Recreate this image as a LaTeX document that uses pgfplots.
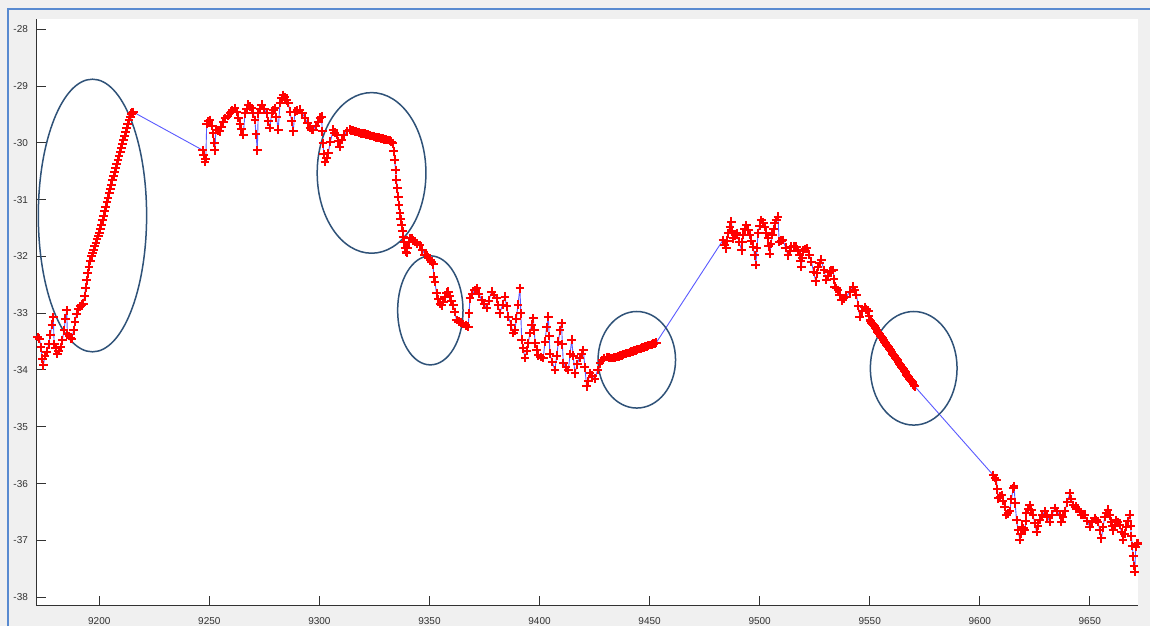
\documentclass[border=0pt]{standalone}
\usepackage{fontspec}
\setmainfont{Liberation Sans}
\usepackage{pgfplots}
\usepackage{pgfplotstable}
\pgfplotsset{compat=1.18}
\definecolor{figgray}{RGB}{240,240,240}
\definecolor{winblue}{RGB}{88,138,208}
\definecolor{axgray}{RGB}{50,50,50}
\definecolor{ellcol}{RGB}{47,82,120}
\definecolor{lineblue}{RGB}{90,90,255}
\pgfplotstableread[row sep=\\]{
x y\\
9171.2 -33.40\\ 9172.0 -33.42\\ 9172.8 -33.45\\ 9173.5 -33.60\\ 9174.1 -33.80\\ 9174.6 -33.92\\ 9175.3 -33.75\\ 9176.1 -33.68\\
9177.0 -33.55\\ 9177.8 -33.38\\ 9178.5 -33.20\\ 9179.1 -33.07\\ 9179.5 -33.55\\ 9180.2 -33.62\\ 9181.0 -33.72\\ 9181.6 -33.66\\
9182.4 -33.60\\ 9183.2 -33.48\\ 9184.0 -33.30\\ 9184.6 -33.10\\ 9185.2 -32.95\\ 9185.5 -33.36\\ 9186.2 -33.40\\ 9187.0 -33.44\\
9187.6 -33.45\\ 9188.3 -33.30\\ 9189.0 -33.15\\ 9189.7 -33.01\\ 9190.5 -32.92\\ 9191.3 -32.88\\ 9192.0 -32.85\\ 9192.7 -32.83\\
9193.3 -32.70\\ 9193.8 -32.55\\ 9194.3 -32.42\\ 9194.8 -32.30\\ 9195.3 -32.18\\ 9195.9 -32.08\\ 9196.5 -32.00\\ 9197.0 -31.94\\
9197.5 -31.88\\ 9198.0 -31.82\\ 9198.5 -31.76\\ 9199.0 -31.70\\ 9199.5 -31.64\\ 9200.0 -31.58\\ 9200.5 -31.51\\ 9201.0 -31.44\\
9201.5 -31.36\\ 9202.0 -31.28\\ 9202.5 -31.20\\ 9203.0 -31.13\\ 9203.5 -31.05\\ 9204.0 -30.97\\ 9204.5 -30.89\\ 9205.0 -30.81\\
9205.5 -30.74\\ 9206.0 -30.66\\ 9206.5 -30.58\\ 9207.0 -30.51\\ 9207.5 -30.44\\ 9208.0 -30.37\\ 9208.5 -30.30\\ 9209.0 -30.24\\
9209.5 -30.17\\ 9210.0 -30.10\\ 9210.5 -30.02\\ 9211.0 -29.95\\ 9211.5 -29.88\\ 9212.0 -29.81\\ 9212.5 -29.74\\ 9213.0 -29.67\\
9213.5 -29.60\\ 9214.0 -29.54\\ 9214.5 -29.49\\ 9215.0 -29.47\\ 9215.5 -29.46\\
9247.0 -30.13\\ 9247.5 -30.22\\ 9248.0 -30.33\\ 9248.4 -30.28\\ 9248.8 -29.66\\ 9249.5 -29.62\\ 9250.3 -29.60\\ 9251.0 -29.70\\
9251.8 -29.83\\ 9252.2 -30.00\\ 9252.5 -30.13\\ 9253.0 -29.77\\ 9253.8 -29.78\\ 9254.8 -29.80\\ 9255.5 -29.72\\ 9256.3 -29.63\\
9257.3 -29.57\\ 9258.3 -29.52\\ 9259.4 -29.48\\ 9260.5 -29.43\\ 9261.6 -29.39\\ 9262.4 -29.45\\ 9263.2 -29.56\\ 9263.9 -29.66\\
9264.6 -29.76\\ 9265.4 -29.86\\ 9266.2 -29.48\\ 9267.0 -29.40\\ 9267.7 -29.33\\ 9268.5 -29.36\\ 9269.2 -29.39\\ 9270.0 -29.48\\
9270.7 -29.60\\ 9271.2 -29.85\\ 9271.8 -30.13\\ 9272.2 -29.48\\ 9273.0 -29.40\\ 9273.8 -29.33\\ 9274.9 -29.40\\ 9276.0 -29.48\\
9276.8 -29.62\\ 9277.5 -29.74\\ 9278.3 -29.48\\ 9279.0 -29.43\\ 9279.8 -29.39\\ 9280.5 -29.55\\ 9281.3 -29.77\\ 9282.1 -29.30\\
9282.8 -29.21\\ 9283.6 -29.16\\ 9284.4 -29.20\\ 9285.2 -29.25\\ 9285.9 -29.30\\ 9286.6 -29.45\\ 9287.4 -29.62\\ 9288.1 -29.80\\
9288.9 -29.45\\ 9290.0 -29.43\\ 9291.2 -29.42\\ 9292.3 -29.48\\ 9293.5 -29.57\\ 9294.6 -29.65\\ 9295.7 -29.74\\ 9296.5 -29.77\\
9297.2 -29.77\\ 9298.3 -29.70\\ 9299.5 -29.63\\ 9300.3 -29.56\\ 9301.0 -29.54\\ 9301.3 -29.80\\ 9301.6 -30.01\\ 9302.0 -30.20\\
9302.5 -30.33\\ 9303.3 -30.27\\ 9304.0 -30.18\\ 9305.0 -29.98\\ 9306.3 -29.77\\ 9307.0 -29.82\\ 9307.8 -29.86\\ 9308.5 -29.97\\
9309.3 -30.07\\ 9310.2 -29.95\\ 9311.2 -29.86\\ 9312.5 -29.80\\ 9313.8 -29.77\\ 9314.5 -29.78\\ 9315.2 -29.79\\ 9316.0 -29.80\\
9316.8 -29.80\\ 9317.5 -29.81\\ 9318.2 -29.82\\ 9319.0 -29.83\\ 9319.8 -29.84\\ 9320.5 -29.84\\ 9321.2 -29.85\\ 9322.0 -29.86\\
9322.8 -29.87\\ 9323.5 -29.88\\ 9324.2 -29.88\\ 9325.0 -29.89\\ 9325.8 -29.90\\ 9326.5 -29.91\\ 9327.2 -29.91\\ 9328.0 -29.92\\
9328.8 -29.93\\ 9329.5 -29.94\\ 9330.2 -29.94\\ 9331.0 -29.95\\ 9331.9 -29.96\\ 9332.6 -29.98\\ 9333.4 -30.01\\ 9333.8 -30.15\\
9334.2 -30.30\\ 9334.6 -30.48\\ 9335.0 -30.65\\ 9335.4 -30.80\\ 9335.8 -30.95\\ 9336.2 -31.10\\ 9336.6 -31.24\\ 9337.0 -31.35\\
9337.4 -31.45\\ 9337.8 -31.56\\ 9338.1 -31.65\\ 9338.5 -31.75\\ 9338.9 -31.85\\ 9339.3 -31.92\\ 9339.6 -31.94\\ 9340.0 -31.85\\
9340.5 -31.75\\ 9341.1 -31.68\\ 9341.9 -31.68\\ 9342.6 -31.72\\ 9343.4 -31.74\\ 9344.5 -31.77\\ 9345.7 -31.80\\ 9346.8 -31.88\\
9347.9 -31.97\\ 9348.7 -31.98\\ 9349.5 -32.02\\ 9350.3 -32.06\\ 9351.0 -32.10\\ 9351.7 -32.14\\ 9351.9 -32.36\\ 9352.5 -32.45\\
9353.2 -32.65\\ 9354.0 -32.75\\ 9354.8 -32.83\\ 9355.5 -32.86\\ 9356.3 -32.80\\ 9357.0 -32.72\\ 9357.8 -32.64\\ 9358.5 -32.62\\
9359.3 -32.70\\ 9360.0 -32.78\\ 9360.8 -32.86\\ 9361.5 -32.98\\ 9362.3 -33.12\\ 9363.3 -33.15\\ 9364.3 -33.17\\ 9365.3 -33.19\\
9366.4 -33.21\\ 9367.6 -33.24\\ 9368.0 -33.00\\ 9368.4 -32.74\\ 9369.5 -32.66\\ 9370.5 -32.60\\ 9371.4 -32.56\\ 9372.5 -32.66\\
9373.7 -32.77\\ 9374.8 -32.84\\ 9376.0 -32.91\\ 9377.0 -32.78\\ 9378.2 -32.62\\ 9379.3 -32.68\\ 9380.5 -32.74\\ 9381.2 -32.86\\
9382.0 -33.00\\ 9383.2 -32.85\\ 9384.3 -32.71\\ 9385.0 -32.88\\ 9385.8 -33.06\\ 9387.0 -33.20\\ 9388.1 -33.35\\ 9388.8 -33.30\\
9389.5 -33.10\\ 9390.2 -32.85\\ 9391.1 -32.56\\ 9391.5 -33.00\\ 9391.9 -33.47\\ 9392.6 -33.62\\ 9393.4 -33.79\\ 9394.2 -33.66\\
9394.9 -33.53\\ 9395.6 -33.35\\ 9396.4 -33.20\\ 9397.2 -33.09\\ 9397.6 -33.30\\ 9398.0 -33.53\\ 9398.8 -33.64\\ 9399.5 -33.74\\
9400.6 -33.77\\ 9401.7 -33.79\\ 9402.5 -33.50\\ 9403.2 -33.25\\ 9404.0 -33.06\\ 9404.4 -33.40\\ 9404.7 -33.71\\ 9405.8 -33.86\\
9407.0 -34.00\\ 9407.8 -33.75\\ 9408.6 -33.50\\ 9409.3 -33.30\\ 9410.0 -33.18\\ 9410.4 -33.55\\ 9410.8 -33.88\\ 9412.0 -33.95\\
9413.1 -34.00\\ 9413.9 -33.72\\ 9414.6 -33.47\\ 9415.3 -33.75\\ 9416.1 -34.06\\ 9417.1 -33.90\\ 9418.2 -33.78\\ 9419.2 -33.71\\
9419.9 -33.65\\ 9420.6 -33.95\\ 9421.4 -34.29\\ 9422.1 -34.20\\ 9422.9 -34.06\\ 9424.0 -34.10\\ 9425.2 -34.15\\ 9426.4 -34.00\\
9427.5 -33.88\\ 9428.5 -33.83\\ 9429.5 -33.79\\ 9430.5 -33.77\\ 9431.5 -33.78\\ 9432.5 -33.79\\ 9433.5 -33.79\\ 9434.0 -33.78\\
9434.5 -33.78\\ 9435.0 -33.77\\ 9435.5 -33.76\\ 9436.0 -33.76\\ 9436.5 -33.75\\ 9437.0 -33.74\\ 9437.5 -33.74\\ 9438.0 -33.73\\
9438.5 -33.72\\ 9439.0 -33.72\\ 9439.5 -33.71\\ 9440.0 -33.70\\ 9440.5 -33.70\\ 9441.0 -33.69\\ 9441.5 -33.68\\ 9442.0 -33.67\\
9442.5 -33.67\\ 9443.0 -33.66\\ 9443.5 -33.65\\ 9444.0 -33.65\\ 9444.5 -33.64\\ 9445.0 -33.63\\ 9445.5 -33.63\\ 9446.0 -33.62\\
9446.5 -33.61\\ 9447.0 -33.61\\ 9447.5 -33.60\\ 9448.0 -33.59\\ 9448.5 -33.59\\ 9449.0 -33.58\\ 9449.5 -33.57\\ 9450.0 -33.56\\
9450.5 -33.56\\ 9451.0 -33.55\\ 9451.5 -33.54\\ 9452.0 -33.54\\ 9452.5 -33.53\\ 9453.0 -33.52\\
9483.4 -31.71\\ 9484.2 -31.80\\ 9484.9 -31.86\\ 9485.3 -31.72\\ 9485.7 -31.59\\ 9486.5 -31.48\\ 9487.2 -31.39\\ 9487.6 -31.55\\
9488.0 -31.68\\ 9488.8 -31.63\\ 9489.5 -31.59\\ 9490.6 -31.74\\ 9491.8 -31.89\\ 9492.2 -31.75\\ 9492.5 -31.62\\ 9493.3 -31.52\\
9494.0 -31.45\\ 9494.8 -31.53\\ 9495.5 -31.62\\ 9496.3 -31.72\\ 9497.0 -31.83\\ 9497.7 -31.98\\ 9498.3 -32.15\\ 9498.8 -31.85\\
9499.3 -31.59\\ 9500.0 -31.46\\ 9500.8 -31.36\\ 9501.6 -31.41\\ 9502.3 -31.48\\ 9503.0 -31.58\\ 9503.8 -31.68\\ 9504.2 -31.82\\
9504.6 -31.95\\ 9505.2 -31.78\\ 9505.8 -31.62\\ 9506.3 -31.52\\ 9506.8 -31.42\\ 9507.5 -31.36\\ 9508.3 -31.30\\ 9508.9 -31.74\\
9509.8 -31.72\\ 9510.6 -31.71\\ 9511.8 -31.85\\ 9512.9 -31.98\\ 9513.6 -31.90\\ 9514.4 -31.83\\ 9515.5 -31.82\\ 9516.7 -31.83\\
9517.5 -31.90\\ 9518.2 -31.98\\ 9518.6 -32.08\\ 9519.0 -32.18\\ 9519.4 -32.02\\ 9519.7 -31.89\\ 9520.6 -31.87\\ 9521.5 -31.86\\
9522.5 -31.97\\ 9523.5 -32.09\\ 9524.5 -32.27\\ 9525.5 -32.44\\ 9526.0 -32.30\\ 9526.5 -32.18\\ 9527.2 -32.12\\ 9528.0 -32.06\\
9529.2 -32.24\\ 9530.3 -32.41\\ 9531.0 -32.34\\ 9531.8 -32.27\\ 9532.6 -32.25\\ 9533.4 -32.24\\ 9533.8 -32.40\\ 9534.1 -32.53\\
9534.9 -32.56\\ 9535.6 -32.59\\ 9536.4 -32.68\\ 9537.2 -32.77\\ 9538.3 -32.74\\ 9539.4 -32.71\\ 9541.0 -32.62\\ 9542.5 -32.53\\
9543.2 -32.60\\ 9544.0 -32.68\\ 9544.8 -32.87\\ 9545.5 -33.06\\ 9546.6 -32.97\\ 9547.8 -32.89\\ 9548.5 -32.93\\ 9549.3 -32.97\\
9549.7 -33.05\\ 9550.1 -33.12\\ 9550.5 -33.14\\ 9550.9 -33.17\\ 9551.3 -33.19\\ 9551.7 -33.21\\ 9552.1 -33.23\\ 9552.5 -33.26\\
9552.9 -33.28\\ 9553.3 -33.30\\ 9553.7 -33.33\\ 9554.1 -33.35\\ 9554.5 -33.37\\ 9554.9 -33.40\\ 9555.3 -33.42\\ 9555.7 -33.44\\
9556.1 -33.47\\ 9556.5 -33.49\\ 9556.9 -33.51\\ 9557.3 -33.53\\ 9557.7 -33.56\\ 9558.1 -33.58\\ 9558.5 -33.60\\ 9558.9 -33.63\\
9559.3 -33.65\\ 9559.7 -33.67\\ 9560.1 -33.69\\ 9560.5 -33.72\\ 9560.9 -33.74\\ 9561.3 -33.76\\ 9561.7 -33.79\\ 9562.1 -33.81\\
9562.5 -33.83\\ 9562.9 -33.86\\ 9563.3 -33.88\\ 9563.7 -33.90\\ 9564.1 -33.92\\ 9564.5 -33.95\\ 9564.9 -33.97\\ 9565.3 -33.99\\
9565.7 -34.02\\ 9566.1 -34.04\\ 9566.5 -34.06\\ 9566.9 -34.09\\ 9567.3 -34.11\\ 9567.7 -34.13\\ 9568.1 -34.15\\ 9568.5 -34.18\\
9568.9 -34.20\\ 9569.3 -34.22\\ 9569.7 -34.25\\ 9570.1 -34.27\\ 9570.5 -34.29\\
9606.1 -35.85\\ 9606.9 -35.90\\ 9607.6 -35.94\\ 9608.0 -36.10\\ 9608.4 -36.26\\ 9609.2 -36.23\\ 9609.9 -36.20\\ 9610.6 -36.30\\
9611.4 -36.41\\ 9612.1 -36.55\\ 9612.8 -36.52\\ 9613.6 -36.49\\ 9614.4 -36.28\\ 9615.2 -36.08\\ 9615.6 -36.05\\ 9616.1 -36.35\\
9616.7 -36.64\\ 9617.4 -36.82\\ 9618.2 -36.99\\ 9618.6 -36.88\\ 9619.0 -36.76\\ 9619.8 -36.79\\ 9620.5 -36.82\\ 9620.9 -36.66\\
9621.2 -36.52\\ 9622.0 -36.45\\ 9622.7 -36.38\\ 9623.5 -36.46\\ 9624.2 -36.55\\ 9625.0 -36.70\\ 9625.8 -36.85\\ 9626.5 -36.74\\
9627.3 -36.64\\ 9628.4 -36.56\\ 9629.5 -36.49\\ 9630.6 -36.58\\ 9631.8 -36.67\\ 9632.9 -36.55\\ 9634.1 -36.43\\ 9635.2 -36.49\\
9636.3 -36.55\\ 9637.1 -36.67\\ 9637.8 -36.58\\ 9638.6 -36.49\\ 9639.8 -36.33\\ 9640.9 -36.17\\ 9641.6 -36.27\\ 9642.4 -36.38\\
9643.5 -36.41\\ 9644.6 -36.44\\ 9645.4 -36.50\\ 9646.2 -36.55\\ 9647.0 -36.55\\ 9647.7 -36.55\\ 9648.8 -36.66\\ 9650.0 -36.76\\
9651.1 -36.68\\ 9652.2 -36.61\\ 9653.0 -36.64\\ 9653.7 -36.67\\ 9654.5 -36.82\\ 9655.3 -36.96\\ 9656.0 -36.77\\ 9656.8 -36.58\\
9657.5 -36.52\\ 9658.3 -36.46\\ 9659.0 -36.56\\ 9659.8 -36.67\\ 9660.2 -36.75\\ 9660.6 -36.82\\ 9661.3 -36.73\\ 9662.1 -36.64\\
9662.8 -36.68\\ 9663.6 -36.73\\ 9664.4 -36.86\\ 9665.1 -36.99\\ 9665.8 -36.88\\ 9666.6 -36.76\\ 9667.3 -36.66\\ 9668.1 -36.55\\
9668.5 -36.74\\ 9668.9 -36.93\\ 9669.3 -37.10\\ 9669.7 -37.28\\ 9670.1 -37.45\\ 9670.4 -37.55\\ 9670.9 -37.11\\ 9671.5 -37.06\\
9671.9 -37.05\\
}\sensordata
\begin{document}
\begin{tikzpicture}
\fill[figgray] (0,0) rectangle (575pt,313pt);
\draw[winblue, line width=1pt] (4pt,0) -- (4pt,308.5pt) -- (575pt,308.5pt);
\begin{axis}[
  at={(18pt,10.15pt)}, anchor=south west,
  scale only axis, width=551pt, height=293.35pt,
  xmin=9171.25, xmax=9671.9, ymin=-38.15, ymax=-27.82,
  axis background/.style={fill=white},
  axis x line*=bottom, axis y line*=left,
  axis line style={axgray, line width=0.5pt, -},
  tick align=inside, major tick length=5pt,
  tick style={axgray, line width=0.5pt},
  xtick={9200,9250,9300,9350,9400,9450,9500,9550,9600,9650},
  xticklabels={9200,9250,9300,9350,9400,9450,9500,9550,9600,9650},
  ytick={-38,-37,-36,-35,-34,-33,-32,-31,-30,-29,-28},
  yticklabels={-38,-37,-36,-35,-34,-33,-32,-31,-30,-29,-28},
  ticklabel style={font=\fontsize{5}{6}\selectfont, text=axgray},
  xticklabel style={yshift=-2.5pt},
  yticklabel style={xshift=-0.5pt},
]
\addplot[lineblue, line width=0.45pt, no marks] table[x=x, y=y] {\sensordata};
\addplot[only marks, mark=+, mark size=2.2pt, mark options={draw=red, line width=1pt}] table[x=x, y=y] {\sensordata};
\draw[ellcol, line width=0.75pt] (axis cs:9196.9,-31.28) ellipse [x radius=24.6, y radius=2.40];
\draw[ellcol, line width=0.75pt] (axis cs:9323.7,-30.53) ellipse [x radius=24.7, y radius=1.414];
\draw[ellcol, line width=0.75pt] (axis cs:9350.4,-32.95) ellipse [x radius=14.85, y radius=0.96];
\draw[ellcol, line width=0.75pt] (axis cs:9444.2,-33.82) ellipse [x radius=17.6, y radius=0.85];
\draw[ellcol, line width=0.75pt] (axis cs:9570.0,-33.97) ellipse [x radius=19.7, y radius=1.0];
\end{axis}
\pgfresetboundingbox
\useasboundingbox (0,0) rectangle (575pt,313pt);
\end{tikzpicture}
\end{document}
